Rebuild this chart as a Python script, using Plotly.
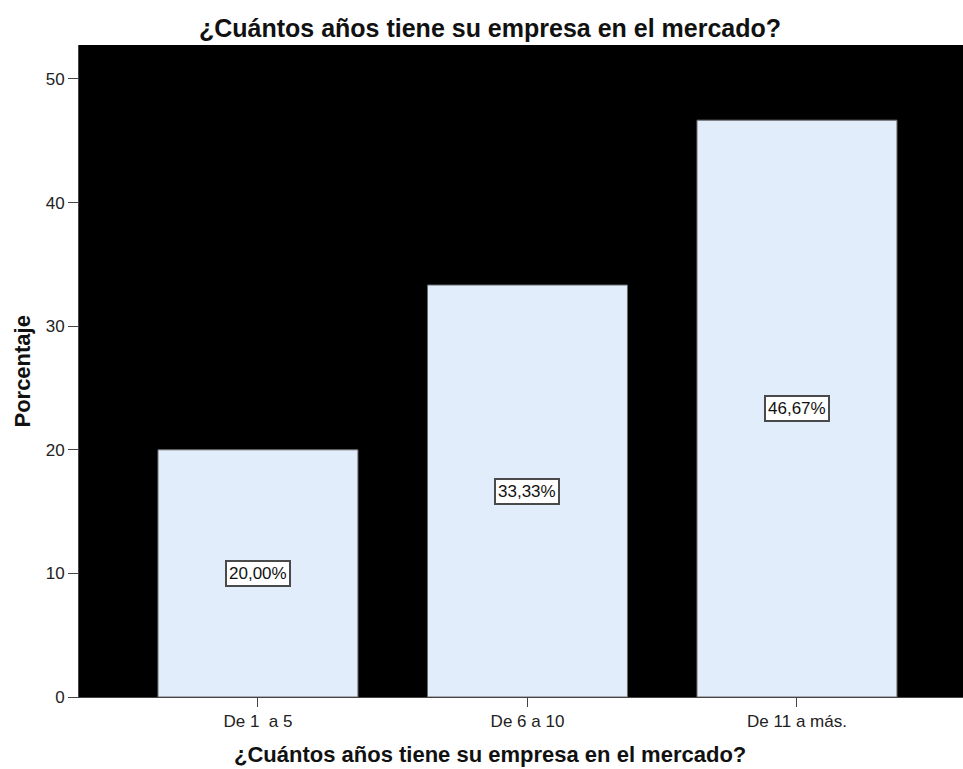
import plotly.graph_objects as go

# Survey: years the company has been in the market
categorias = ["De 1  a 5", "De 6 a 10", "De 11 a más."]
porcentajes = [20.00, 33.33, 46.67]
etiquetas = ["20,00%", "33,33%", "46,67%"]
y_ticks = [0, 10, 20, 30, 40, 50]

titulo = "¿Cuántos años tiene su empresa en el mercado?"
FONT = "Liberation Sans, Arial, sans-serif"

fig = go.Figure()
fig.add_trace(go.Bar(
    x=categorias,
    y=porcentajes,
    width=0.742,
    marker=dict(color="#e1edfa", line=dict(color="#6b6b6b", width=1)),
    hoverinfo="skip",
))

# value labels boxed in the middle of each bar
for cat, val, txt in zip(categorias, porcentajes, etiquetas):
    fig.add_annotation(
        x=cat, y=val / 2, text=txt, showarrow=False,
        font=dict(family=FONT, size=17, color="#111111"),
        bgcolor="white", bordercolor="#4a4a4a", borderwidth=2, borderpad=2,
    )

# axis titles
fig.add_annotation(
    xref="paper", yref="paper", x=(490 - 79) / (963 - 79), y=-0.088,
    text="<b>" + titulo + "</b>", showarrow=False,
    font=dict(family=FONT, size=22, color="#111111"),
    xanchor="center", yanchor="middle",
)
fig.add_annotation(
    xref="paper", yref="paper", x=-0.065, y=0.5,
    text="<b>Porcentaje</b>", showarrow=False, textangle=-90,
    font=dict(family=FONT, size=22, color="#111111"),
    xanchor="center", yanchor="middle",
)

fig.update_layout(
    width=963, height=769,
    margin=dict(l=79, r=0, t=45, b=72),
    paper_bgcolor="white",
    plot_bgcolor="black",
    showlegend=False,
    title=dict(
        text="<b>" + titulo + "</b>",
        x=490 / 963, xref="container", xanchor="center",
        y=1 - 28 / 769, yref="container", yanchor="middle",
        font=dict(family=FONT, size=25, color="#111111"),
    ),
    xaxis=dict(
        type="category", range=[-0.664, 2.616],
        showgrid=False, zeroline=False,
        showline=True, linecolor="#444444", linewidth=1,
        ticks="outside", ticklen=9, tickcolor="#444444",
        tickfont=dict(family=FONT, size=17, color="#222222"),
    ),
    yaxis=dict(
        range=[0, 52.75], tickvals=y_ticks,
        showgrid=False, zeroline=False,
        showline=True, linecolor="#444444", linewidth=1,
        ticks="outside", ticklen=10, tickcolor="#444444",
        tickfont=dict(family=FONT, size=17, color="#222222"),
    ),
)

fig.write_html("out.html")
